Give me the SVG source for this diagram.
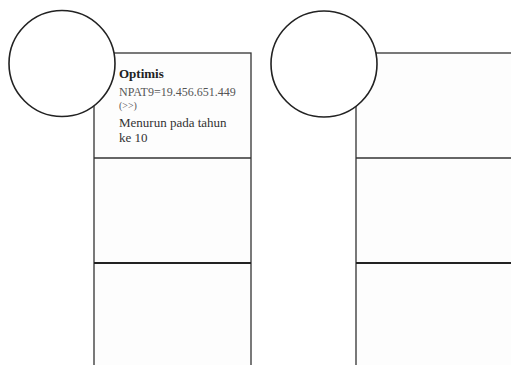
<svg xmlns="http://www.w3.org/2000/svg" width="511" height="365" viewBox="0 0 511 365">
<style>
.box{fill:#fdfdfd;stroke:#333;stroke-width:1.3}
.div{stroke:#333;stroke-width:1.5}
.div2{stroke:#222;stroke-width:2}
.circ{fill:#fff;stroke:#222;stroke-width:1.6}
text{font-family:"Liberation Serif","Times New Roman",serif;fill:#333}
.t{font-size:13px}
.b{font-size:13px;font-weight:bold;fill:#222}
.s{font-size:12px;fill:#555}
.xs{font-size:10px;fill:#555}
</style>
<rect width="511" height="365" fill="#fff"/>
<g id="panel-left">
<rect class="box" x="94" y="53" width="157" height="320"/>
<line class="div" x1="94" y1="158" x2="251" y2="158"/>
<line class="div2" x1="94" y1="263" x2="251" y2="263"/>
<text class="b" x="119" y="78">Optimis</text>
<text class="s" x="119" y="96">NPAT9=19.456.651.449</text>
<text class="xs" x="119" y="109">(&gt;&gt;)</text>
<text class="t" x="119" y="127">Menurun pada tahun</text>
<text class="t" x="119" y="142">ke 10</text>
</g>
<g id="circle-left">
<circle class="circ" cx="62" cy="63.5" r="53"/>
</g>
<g id="panel-right">
<rect class="box" x="356" y="53" width="170" height="320"/>
<line class="div" x1="356" y1="158" x2="511" y2="158"/>
<line class="div2" x1="356" y1="263" x2="511" y2="263"/>
</g>
<g id="circle-right">
<circle class="circ" cx="324" cy="64" r="53"/>
</g>
<g id="connectors"></g>
</svg>
